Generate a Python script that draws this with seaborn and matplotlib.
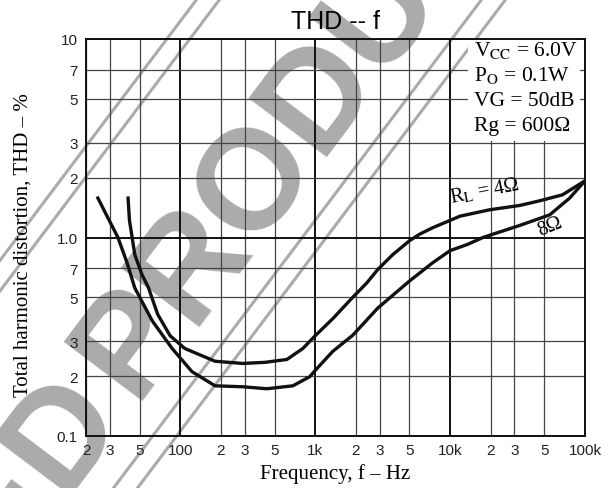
# THD vs frequency curve (datasheet style) with "DISCONTINUED PRODUCT" stamp
import pandas as pd
import matplotlib
matplotlib.use("Agg")
import matplotlib.pyplot as plt
import seaborn as sns
from matplotlib.lines import Line2D
from matplotlib.patches import Rectangle

# curve values
freq_4ohm = [41, 42, 46, 52, 58, 68, 84, 108, 181, 291, 424, 617, 810, 1000, 1350, 1900,
             2410, 2910, 3760, 5020, 5960, 7430, 10000, 11800, 19700, 32800, 46000,
             68000, 100000]
thd_4ohm = [1.58, 1.22, 0.82, 0.65, 0.56, 0.41, 0.32, 0.276, 0.238, 0.232, 0.235, 0.243,
            0.276, 0.32, 0.39, 0.50, 0.59, 0.69, 0.82, 0.965, 1.04, 1.12, 1.22, 1.28,
            1.38, 1.45, 1.53, 1.64, 1.93]

freq_8ohm = [24.5, 29, 34.5, 40.3, 46, 62, 87, 122, 181, 291, 438, 683, 912, 1000, 1350,
             1900, 2910, 5020, 7430, 10000, 13300, 17500, 32800, 54700, 77000, 100000]
thd_8ohm = [1.58, 1.26, 1.0, 0.746, 0.557, 0.38, 0.276, 0.211, 0.179, 0.177, 0.173, 0.179,
            0.199, 0.214, 0.267, 0.322, 0.441, 0.605, 0.746, 0.859, 0.92, 1.0, 1.15, 1.30,
            1.58, 1.93]

x_major = [100, 1000, 10000, 100000]
x_major_labels = ["100", "1k", "10k", "100k"]
x_minor = [20, 30, 50, 200, 300, 500, 2000, 3000, 5000, 20000, 30000, 50000]
x_minor_labels = ["2", "3", "5"] * 4
y_major = [0.1, 1, 10]
y_major_labels = ["0.1", "1.0", "10"]
y_minor = [0.2, 0.3, 0.5, 0.7, 2, 3, 5, 7]
y_minor_labels = ["2", "3", "5", "7"] * 2

conditions = [r"V$_{\mathrm{CC}}$ = 6.0V", r"P$_{\mathrm{O}}$ = 0.1W", "VG = 50dB", "Rg = 600Ω"]

plt.rcParams["mathtext.fontset"] = "stix"
plt.rcParams["font.family"] = ["Liberation Sans", "DejaVu Sans"]

df = pd.concat([
    pd.DataFrame({"freq": freq_4ohm, "thd": thd_4ohm, "load": "4"}),
    pd.DataFrame({"freq": freq_8ohm, "thd": thd_8ohm, "load": "8"}),
])

fig = plt.figure(figsize=(6.14, 4.89), dpi=100)
ax = fig.add_axes([86 / 614, 1 - 437 / 489, 499 / 614, 397 / 489])
ax.patch.set_visible(False)

# stamp in the background
gray = "#ababab"
for x0 in [197, 220, 482, 506]:
    fig.add_artist(Line2D([(x0 + 20 / 1.327) / 614, (x0 - 520 / 1.327) / 614],
                          [1 + 20 / 489, 1 - 520 / 489], color=gray, lw=2.2, zorder=-2))
fig.text(315 / 614, 1 - 100 / 489, "PRODUCT", rotation=53, rotation_mode="anchor",
         ha="center", va="center", fontsize=102, fontweight="bold", color=gray, zorder=-2)
fig.text(95 / 614, 1 - 392 / 489, "DISCONTINUED", rotation=53, rotation_mode="anchor",
         ha="right", va="center", fontsize=102, fontweight="bold", color=gray, zorder=-2)

ax.set_xscale("log")
ax.set_yscale("log")
sns.lineplot(data=df, x="freq", y="thd", hue="load", palette=["#111111", "#111111"],
             estimator=None, sort=False, legend=False, lw=2.4, ax=ax, zorder=3)

ax.set_xlim(20, 100000)
ax.set_ylim(0.1, 10)
ax.set_xticks(x_major, x_major_labels)
ax.set_xticks(x_minor, x_minor_labels, minor=True)
ax.set_yticks(y_major, y_major_labels)
ax.set_yticks(y_minor, y_minor_labels, minor=True)
ax.tick_params(which="both", length=0, labelsize=11, colors="#222222")
ax.tick_params(axis="x", which="both", pad=5)
ax.tick_params(axis="y", which="both", pad=6)

ax.set_axisbelow(True)
ax.grid(which="major", color="#111111", lw=1.4)
ax.grid(which="minor", color="#444444", lw=0.9)
for s in ax.spines.values():
    s.set_color("#111111")
    s.set_linewidth(1.4)

# conditions box
ax.add_patch(Rectangle(((468 - 86) / 499, (437 - 142) / 397), (580 - 468) / 499, 102 / 397,
                       transform=ax.transAxes, facecolor="white", edgecolor="none", zorder=1))
for i, line in enumerate(conditions):
    ax.text((474 - 86) / 499, (437 - 56 - 25 * i) / 397, line, transform=ax.transAxes,
            ha="left", va="baseline", fontsize=15.5, family="Liberation Serif", zorder=4)

ax.text(18100, 1.72, r"R$_{\mathrm{L}}$ = 4Ω", rotation=11, ha="center", va="center",
        fontsize=14.5, family="Liberation Serif", zorder=4)
ax.text(54700, 1.135, "8Ω", rotation=22, ha="center", va="center",
        fontsize=14.5, family="Liberation Serif", zorder=4)

ax.set_title("THD -- f", fontsize=18, pad=8)
ax.set_xlabel("Frequency, f – Hz", fontsize=15, family="Liberation Serif")
ax.set_ylabel("Total harmonic distortion, THD – %", fontsize=15, family="Liberation Serif")
ax.xaxis.set_label_coords(0.5, -0.068)
ax.yaxis.set_label_coords(-0.108, 0.484)

fig.savefig("out.png", dpi=100)
